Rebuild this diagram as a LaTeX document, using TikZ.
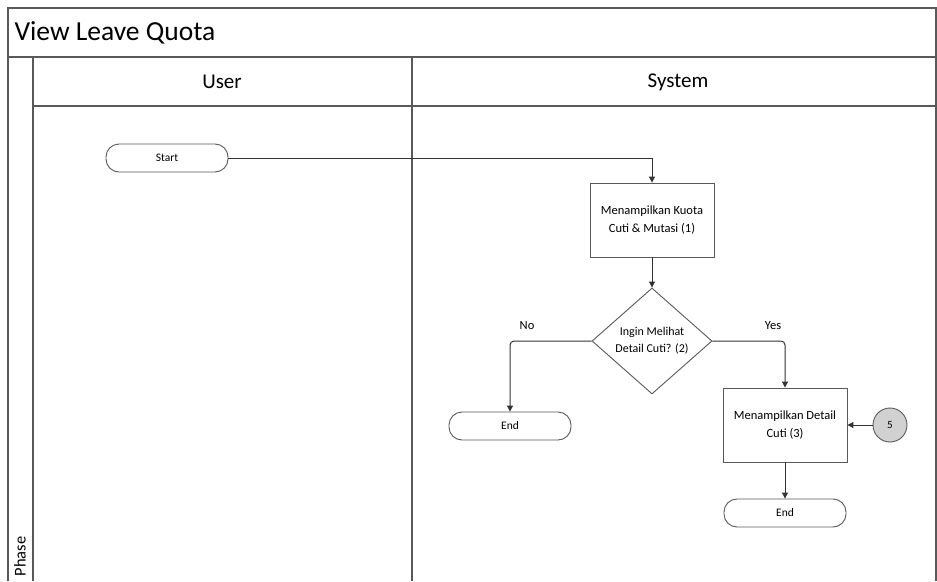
\documentclass[tikz,border=0pt]{standalone}
\usepackage{fontspec}
\setmainfont{Carlito}
\usetikzlibrary{shapes.geometric,arrows.meta}
\begin{document}
\begin{tikzpicture}[x=1pt,y=-1pt,
  lane/.style={draw=black!65, line width=1.2pt},
  term/.style={draw=black!65, rounded corners=13pt, minimum width=122pt, minimum height=28pt, font=\fontsize{11.5}{13}\selectfont, line width=0.9pt},
  proc/.style={draw=black!65, minimum width=124pt, minimum height=74pt, align=center, font=\fontsize{12.5}{18}\selectfont, line width=0.9pt},
  dec/.style={draw=black!65, diamond, aspect=1.13, minimum width=120pt, minimum height=106pt, inner sep=0pt, align=center, font=\fontsize{12}{17}\selectfont, line width=0.9pt},
  conn/.style={draw=black!65, circle, fill=black!18, minimum size=34pt, font=\fontsize{11}{12}\selectfont, line width=0.9pt},
  flow/.style={draw=black!80, line width=1pt, -{Triangle[length=6pt,width=6pt]}},
  lbl/.style={font=\fontsize{12.5}{14}\selectfont}
]
\useasboundingbox (0,0) rectangle (937,581);
\fill[white] (0,0) rectangle (937,581);
% frame
\draw[lane] (8,581) -- (8,8) -- (936,8) -- (936,581);
\draw[lane] (8,57) -- (936,57);
\draw[lane] (33,106) -- (936,106);
\draw[lane] (33,57) -- (33,581);
\draw[lane] (412,57) -- (412,581);
\node[anchor=west, font=\fontsize{27.5}{30}\selectfont] (title) at (11,33) {View Leave Quota};
\node[font=\fontsize{21}{24}\selectfont] (user) at (222,82) {User};
\node[font=\fontsize{21}{24}\selectfont] (sys) at (678,82) {System};
\node[rotate=90, anchor=west, font=\fontsize{16.5}{18}\selectfont] (phase) at (20,580) {Phase};
% nodes
\node[term] (start) at (167,158) {Start};
\node[proc] (p1) at (652,220) {Menampilkan Kuota\\Cuti \& Mutasi (1)};
\node[dec] (d1) at (652,341) {Ingin Melihat\\Detail Cuti? (2)};
\node[term] (end1) at (510,426) {End};
\node[proc] (p3) at (785,425) {Menampilkan Detail\\Cuti (3)};
\node[conn] (c5) at (890,425) {5};
\node[term] (end2) at (785,513) {End};
% connectors
\draw[flow] (start.east) -| (p1.north);
\draw[flow] (p1.south) -- (d1.north);
\draw[flow, rounded corners=4pt] (d1.west) -| (end1.north);
\draw[flow, rounded corners=4pt] (d1.east) -| (p3.north);
\draw[flow] (c5.west) -- (p3.east);
\draw[flow] (p3.south) -- (end2.north);
\node[lbl] (no) at (527,326) {No};
\node[lbl] (yes) at (773,326) {Yes};
\end{tikzpicture}
\end{document}
